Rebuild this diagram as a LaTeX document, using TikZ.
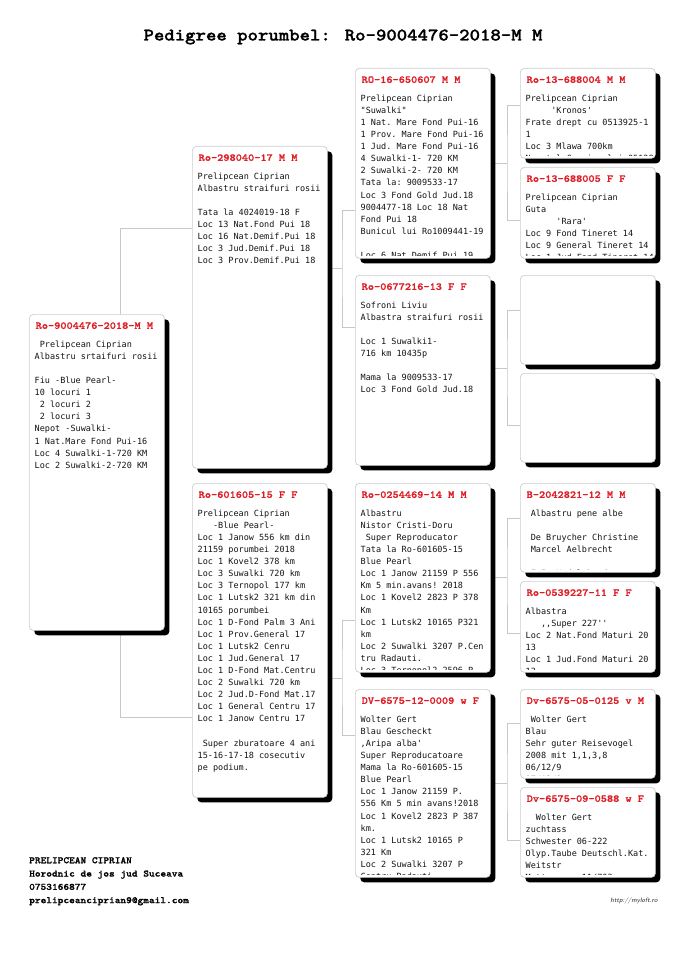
\documentclass[tikz,border=0pt]{standalone}
\usepackage{fontspec}
\setmonofont{DejaVu Sans Mono}
\newfontfamily\hdfont{lmmonolt10-bold.otf}[FakeStretch=1.12, FakeBold=1.2]
\usepackage{tikz}
\usetikzlibrary{shadows,backgrounds}
\definecolor{pedred}{RGB}{222,28,36}
\definecolor{linkgray}{RGB}{200,200,200}
\definecolor{boxgray}{RGB}{205,205,205}

\begin{document}
\begin{tikzpicture}[x=1pt, y=-1pt,
    pbox/.style={rectangle, rounded corners=4pt, draw=boxgray, line width=0.7pt,
        fill=white, minimum width=135pt, inner sep=0pt, anchor=north west,
        drop shadow={shadow xshift=5pt, shadow yshift=-5pt, opacity=1, fill=black}},
    hd/.style={anchor=base west, inner sep=0pt, minimum size=0pt, text=pedred,
        font=\hdfont\fontsize{10.5}{12}\selectfont},
    bd/.style={anchor=north west, inner sep=0pt, minimum size=0pt, align=left,
        text=black!92, font=\ttfamily\fontsize{8.5}{12.1}\selectfont},
    ped/.style 2 args={path picture={
        \clip (path picture bounding box.north west)
            rectangle ([yshift=2.5pt]path picture bounding box.south east);
        \node[hd] at ([xshift=6pt, yshift=-14.5pt]path picture bounding box.north west) {#1};
        \node[bd] at ([xshift=5pt, yshift=-26pt]path picture bounding box.north west) {#2};}},
    link/.style={draw=linkgray, line width=0.8pt}
]
    \useasboundingbox (0,0) rectangle (685,968);

    \node[font=\hdfont\fontsize{17.7}{20}\selectfont, anchor=base] (title) at (343,40.5)
        {Pedigree porumbel: Ro-9004476-2018-M M};

    % generation 1 and 2
    \node[pbox, minimum height=316pt, ped={Ro-9004476-2018-M M}{~Prelipcean Ciprian\\Albastru srtaifuri rosii\\~\\Fiu -Blue Pearl-\\10 locuri 1\\~2 locuri 2\\~2 locuri 3\\Nepot -Suwalki-\\1 Nat.Mare Fond Pui-16\\Loc 4 Suwalki-1-720 KM\\Loc 2 Suwalki-2-720 KM}] (root) at (29,314) {};
    \node[pbox, minimum height=322pt, ped={Ro-298040-17 M M}{Prelipcean Ciprian\\Albastru straifuri rosii\\~\\Tata la 4024019-18 F\\Loc 13 Nat.Fond Pui 18\\Loc 16 Nat.Demif.Pui 18\\Loc 3 Jud.Demif.Pui 18\\Loc 3 Prov.Demif.Pui 18}] (s) at (192,146) {};
    \node[pbox, minimum height=314pt, ped={Ro-601605-15 F F}{Prelipcean Ciprian\\~~~-Blue Pearl-\\Loc 1 Janow 556 km din\\21159 porumbei 2018\\Loc 1 Kovel2 378 km\\Loc 3 Suwalki 720 km\\Loc 3 Ternopol 177 km\\Loc 1 Lutsk2 321 km din\\10165 porumbei\\Loc 1 D-Fond Palm 3 Ani\\Loc 1 Prov.General 17\\Loc 1 Lutsk2 Cenru\\Loc 1 Jud.General 17\\Loc 1 D-Fond Mat.Centru\\Loc 2 Suwalki 720 km\\Loc 2 Jud.D-Fond Mat.17\\Loc 1 General Centru 17\\Loc 1 Janow Centru 17\\~\\~Super zburatoare 4 ani\\15-16-17-18 cosecutiv\\pe podium.}] (d) at (192,483) {};

    % generation 3
    \node[pbox, minimum height=190pt, ped={RO-16-650607 M M}{Prelipcean Ciprian\\"Suwalki"\\1 Nat. Mare Fond Pui-16\\1 Prov. Mare Fond Pui-16\\1 Jud. Mare Fond Pui-16\\4 Suwalki-1- 720 KM\\2 Suwalki-2- 720 KM\\Tata la: 9009533-17\\Loc 3 Fond Gold Jud.18\\9004477-18 Loc 18 Nat\\Fond Pui 18\\Bunicul lui Ro1009441-19\\~\\Loc 6 Nat.Demif.Pui 19}] (ss) at (355,68) {};
    \node[pbox, minimum height=190pt, ped={Ro-0677216-13 F F}{Sofroni Liviu\\Albastra straifuri rosii\\~\\Loc 1 Suwalki1-\\716 km 10435p\\~\\Mama la 9009533-17\\Loc 3 Fond Gold Jud.18}] (sd) at (355,275) {};
    \node[pbox, minimum height=189pt, ped={Ro-0254469-14 M M}{Albastru\\Nistor Cristi-Doru\\~Super Reproducator\\Tata la Ro-601605-15\\Blue Pearl\\Loc 1 Janow 21159 P 556\\Km 5 min.avans! 2018\\Loc 1 Kovel2 2823 P 378\\Km\\Loc 1 Lutsk2 10165 P321\\km\\Loc 2 Suwalki 3207 P.Cen\\tru Radauti.\\Loc 3 Ternopol2 2596 P}] (ds) at (355,483) {};
    \node[pbox, minimum height=188pt, ped={DV-6575-12-0009 w F}{Wolter Gert\\Blau Gescheckt\\,Aripa alba'\\Super Reproducatoare\\Mama la Ro-601605-15\\Blue Pearl\\Loc 1 Janow 21159 P.\\556 Km 5 min avans!2018\\Loc 1 Kovel2 2823 P 387\\km.\\Loc 1 Lutsk2 10165 P\\321 Km\\Loc 2 Suwalki 3207 P\\Centru Radauti}] (dd) at (355,689) {};

    % generation 4
    \node[pbox, minimum height=90pt, ped={Ro-13-688004 M M}{Prelipcean Ciprian\\~~~~~'Kronos'\\Frate drept cu 0513925-1\\1\\Loc 3 Mlawa 700km\\Nepotul Campionului 05128}] (sss) at (520,68) {};
    \node[pbox, minimum height=91pt, ped={Ro-13-688005 F F}{Prelipcean Ciprian\\Guta\\~~~~~~'Rara'\\Loc 9 Fond Tineret 14\\Loc 9 General Tineret 14\\Loc 1 Jud.Fond Tineret 14}] (ssd) at (520,167) {};
    \node[pbox, minimum height=89pt] (sds) at (520,275) {};
    \node[pbox, minimum height=89pt] (sdd) at (520,373) {};
    \node[pbox, minimum height=89pt, ped={B-2042821-12 M M}{~Albastru pene albe\\~\\~De Bruycher Christine\\~Marcel Aelbrecht\\~\\~F.I. Nadal bond}] (dss) at (520,483) {};
    \node[pbox, minimum height=91pt, ped={Ro-0539227-11 F F}{Albastra\\~~~,,Super 227''\\Loc 2 Nat.Fond Maturi 20\\13\\Loc 1 Jud.Fond Maturi 20\\13}] (dsd) at (520,581) {};
    \node[pbox, minimum height=89pt, ped={Dv-6575-05-0125 v M}{~Wolter Gert\\Blau\\Sehr guter Reisevogel\\2008 mit 1,1,3,8\\06/12/9\\07/12/9}] (dds) at (520,689) {};
    \node[pbox, minimum height=90pt, ped={Dv-6575-09-0588 w F}{~~Wolter Gert\\zuchtass\\Schwester 06-222\\Olyp.Taube Deutschl.Kat.\\Weitstr\\Mutter von 11/703}] (ddd) at (520,787) {};

    \node[anchor=north west, align=left, inner sep=0pt,
        font=\hdfont\fontsize{9.7}{13.3}\selectfont] (owner) at (29,857)
        {PRELIPCEAN CIPRIAN\\Horodnic de jos jud Suceava\\0753166877\\prelipceanciprian9@gmail.com};
    \node[font=\sffamily\itshape\fontsize{6.5}{7}\selectfont, text=black!85] (site) at (634,901)
        {http://myloft.ro};

    \coordinate (jr) at (120,472);
    \coordinate (js) at (342,268);
    \coordinate (jd) at (342,678);
    \coordinate (jss) at (507,163);
    \coordinate (jsd) at (507,368);
    \coordinate (jds) at (507,577);
    \coordinate (jdd) at (507,783);

    \begin{scope}[on background layer]
        \draw[link] (s.west |- 0,228) -| (jr) |- (d.west |- 0,717);
        \draw[link] (s.east |- js) -- (js);
        \draw[link] (ss.west |- 0,210) -| (js) |- (sd.west |- 0,327);
        \draw[link] (d.east |- jd) -- (jd);
        \draw[link] (ds.west |- 0,620) -| (jd) |- (dd.west |- 0,735);
        \draw[link] (ss.east |- jss) -- (jss);
        \draw[link] (sss.west |- 0,105) -| (jss) |- (ssd.west |- 0,220);
        \draw[link] (sd.east |- jsd) -- (jsd);
        \draw[link] (sds.west |- 0,310) -| (jsd) |- (sdd.west |- 0,425);
        \draw[link] (ds.east |- jds) -- (jds);
        \draw[link] (dss.west |- 0,518) -| (jds) |- (dsd.west |- 0,633);
        \draw[link] (dd.east |- jdd) -- (jdd);
        \draw[link] (dds.west |- 0,723) -| (jdd) |- (ddd.west |- 0,840);
    \end{scope}
\end{tikzpicture}
\end{document}
